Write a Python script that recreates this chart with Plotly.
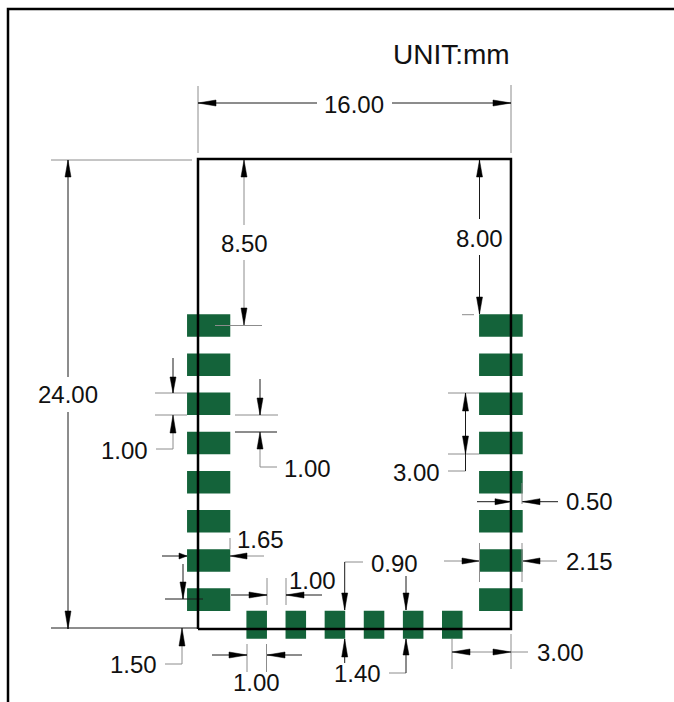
import plotly.graph_objects as go

# Module and pad geometry, millimetres
MODULE_W = 16.0
MODULE_H = 24.0
SIDE_PAD_CENTRES = [1.5, 3.5, 5.5, 7.5, 9.5, 11.5, 13.5, 15.5]
SIDE_PAD_H = 1.15
LEFT_PAD_X = (-0.56, 1.65)
RIGHT_PAD_X = (14.37, 16.6)
BOTTOM_PAD_CENTRES = [3, 5, 7, 9, 11, 13]
BOTTOM_PAD_W = 1.05
BOTTOM_PAD_Y = (-0.5, 0.93)

# Drafting sheet scale: sheet units per millimetre and where the module's corner sits
SCALE_X, SCALE_Y = 19.56, 19.58
ORIGIN_X, ORIGIN_Y = 198.0, 629.0
SHEET_W, SHEET_H = 674, 702


def mx(s):
    return (s - ORIGIN_X) / SCALE_X


def my(s):
    return (ORIGIN_Y - s) / SCALE_Y


FRAME = [(8, 702), (8, 9), 674, 9]

# Dimension polylines on the drafting sheet
BLACK_LINES = [
    [(198, 103), (317, 103)], [(392, 103), (511, 103)],
    [(68, 160), (68, 377)], [(68, 412), (68, 629)],
    [(51, 628), (198, 628)],
    [(479.5, 160), (479.5, 219)], [(479.5, 255), (479.5, 314)],
    [(173, 358), (173, 393)],
    [(260, 379), (260, 415)],
    [(235, 432), (277, 432)],
    [(183, 564), (183, 599)], [(165, 599), (203, 599)],
    [(465.5, 393), (465.5, 471)],
    [(344.7, 562), (344.7, 610)],
    [(406, 576), (406, 610)],
    [(406, 639), (406, 673)],
    [(344.7, 639), (344.7, 663)],
    [(231, 595), (267, 595)], [(286, 595), (322, 595)],
    [(212, 655), (247, 655)], [(267, 655), (302, 655)],
    [(162, 556), (187, 556)],
    [(477, 501.7), (511, 501.7)], [(522.5, 501.7), (558, 501.7)],
]
GRAY_LINES = [
    [(198, 86), (198, 153)], [(511, 85), (511, 153)],
    [(51, 160), (192, 160)],
    [(244, 160), (244, 225)], [(244, 260), (244, 325)],
    [(215, 325.5), (262, 325.5)],
    [(462, 314.7), (474, 314.7)],
    [(155, 393), (187, 393)], [(155, 415), (187, 415)],
    [(173, 415), (173, 449), (156, 449)],
    [(235, 415), (278, 415)],
    [(260, 432), (260, 467), (277, 467)],
    [(230, 538), (230, 549)],
    [(230, 556), (264, 556)],
    [(182, 628), (182, 664), (165, 664)],
    [(267, 578), (267, 605)], [(286, 578), (286, 605)],
    [(247, 644), (247, 672)], [(266.5, 644), (266.5, 672)],
    [(448, 393), (479, 393)], [(448, 454), (479, 454)],
    [(465.5, 471), (448, 471)],
    [(522, 483), (522, 504)],
    [(479.5, 543), (479.5, 582)], [(522, 543), (522, 582)],
    [(444, 561), (479, 561)], [(523, 561), (557, 561)],
    [(344.7, 562), (363, 562)],
    [(406, 673), (389, 673)],
    [(452, 639), (452, 669)], [(511, 634), (511, 669)],
    [(452, 652), (528, 652)],
]

# Arrowheads: tip x, tip y, base x, base y on the sheet
ARROWS = [
    (198, 103, 216, 103), (511, 103, 493, 103),
    (68, 160, 68, 177), (68, 629, 68, 611),
    (244, 160, 244, 177), (244, 325, 244, 308),
    (479.5, 160, 479.5, 177), (479.5, 314, 479.5, 297),
    (173, 393, 173, 377), (173, 415, 173, 433),
    (260, 415, 260, 398), (260, 432, 260, 449),
    (187, 556, 179, 556), (230, 556, 247, 556),
    (183, 599, 183, 582), (182, 628, 182, 646),
    (267, 595, 249, 595), (286, 595, 304, 595),
    (247, 655, 229, 655), (267, 655, 285, 655),
    (465.5, 393, 465.5, 411), (465.5, 454, 465.5, 436),
    (511, 501.7, 495, 501.7), (522.5, 501.7, 540, 501.7),
    (479, 561, 462, 561), (523, 561, 540, 561),
    (344.7, 610, 344.7, 593), (406, 610, 406, 593),
    (344.7, 639, 344.7, 657), (406, 639, 406, 655),
    (452, 652, 470, 652), (511, 652, 493, 652),
]
ARROW_HALF = 3.0

LABELS = ["UNIT:mm", "16.00", "8.50", "8.00", "24.00", "1.00", "1.00", "3.00",
          "0.50", "1.65", "2.15", "0.90", "1.00", "1.50", "1.40", "1.00", "3.00"]
LABEL_X = [451.5, 354, 244, 479, 68, 124, 307.5, 416, 589, 260, 589, 394, 312, 133, 357, 256, 560]
LABEL_Y = [54, 104, 243, 238, 394, 450, 468, 472, 501, 539, 561, 563, 580, 664, 673, 682, 652]
LABEL_SIZE = [28, 24, 24, 24, 24, 24, 24, 24, 24, 24, 24, 24, 24, 24, 24, 24, 24]

PAD_COLOR = "#14633a"

pad_x, pad_y = [], []


def add_box(x0, x1, y0, y1):
    pad_x.extend([x0, x1, x1, x0, x0, None])
    pad_y.extend([y0, y0, y1, y1, y0, None])


for c in SIDE_PAD_CENTRES:
    add_box(*LEFT_PAD_X, c - SIDE_PAD_H / 2, c + SIDE_PAD_H / 2)
    add_box(*RIGHT_PAD_X, c - SIDE_PAD_H / 2, c + SIDE_PAD_H / 2)
for c in BOTTOM_PAD_CENTRES:
    add_box(c - BOTTOM_PAD_W / 2, c + BOTTOM_PAD_W / 2, *BOTTOM_PAD_Y)


def polylines(groups):
    xs, ys = [], []
    for g in groups:
        xs.extend(mx(p[0]) for p in g)
        ys.extend(my(p[1]) for p in g)
        xs.append(None)
        ys.append(None)
    return xs, ys


arrow_x, arrow_y = [], []
for tx, ty, bx, by in ARROWS:
    if ty == by:
        pts = [(tx, ty), (bx, by - ARROW_HALF), (bx, by + ARROW_HALF), (tx, ty)]
    else:
        pts = [(tx, ty), (bx - ARROW_HALF, by), (bx + ARROW_HALF, by), (tx, ty)]
    arrow_x.extend(mx(p[0]) for p in pts)
    arrow_y.extend(my(p[1]) for p in pts)
    arrow_x.append(None)
    arrow_y.append(None)

fig = go.Figure()
fig.add_trace(go.Scatter(x=pad_x, y=pad_y, mode="lines", fill="toself", fillcolor=PAD_COLOR,
                         line=dict(color=PAD_COLOR, width=0), hoverinfo="skip"))
gx, gy = polylines(GRAY_LINES)
fig.add_trace(go.Scatter(x=gx, y=gy, mode="lines", line=dict(color="#8c8c8c", width=1), hoverinfo="skip"))
bx, by = polylines(BLACK_LINES)
fig.add_trace(go.Scatter(x=bx, y=by, mode="lines", line=dict(color="#1a1a1a", width=1), hoverinfo="skip"))
fig.add_trace(go.Scatter(x=[0, MODULE_W, MODULE_W, 0, 0], y=[0, 0, MODULE_H, MODULE_H, 0], mode="lines",
                         line=dict(color="#000000", width=2.5), hoverinfo="skip"))
fig.add_trace(go.Scatter(x=arrow_x, y=arrow_y, mode="lines", fill="toself", fillcolor="#000000",
                         line=dict(color="#000000", width=0.5), hoverinfo="skip"))
fx = [mx(8), mx(8), mx(FRAME[2])]
fy = [my(702), my(9), my(FRAME[3])]
fig.add_trace(go.Scatter(x=fx, y=fy, mode="lines", line=dict(color="#000000", width=2.5), hoverinfo="skip"))

for t, x, y, s in zip(LABELS, LABEL_X, LABEL_Y, LABEL_SIZE):
    fig.add_annotation(x=mx(x), y=my(y), text=t, showarrow=False, xanchor="center", yanchor="middle",
                       font=dict(family="Liberation Sans, Arial, sans-serif", size=s, color="#111111"))

fig.update_layout(
    width=SHEET_W, height=SHEET_H, margin=dict(l=0, r=0, t=0, b=0),
    paper_bgcolor="#ffffff", plot_bgcolor="#ffffff", showlegend=False,
    xaxis=dict(visible=False, range=[mx(0), mx(SHEET_W)], fixedrange=True),
    yaxis=dict(visible=False, range=[my(SHEET_H), my(0)], fixedrange=True),
)
fig.write_html("out.html", config={"displayModeBar": False},
               post_script="document.body.style.margin='0';document.body.style.overflow='hidden';")
